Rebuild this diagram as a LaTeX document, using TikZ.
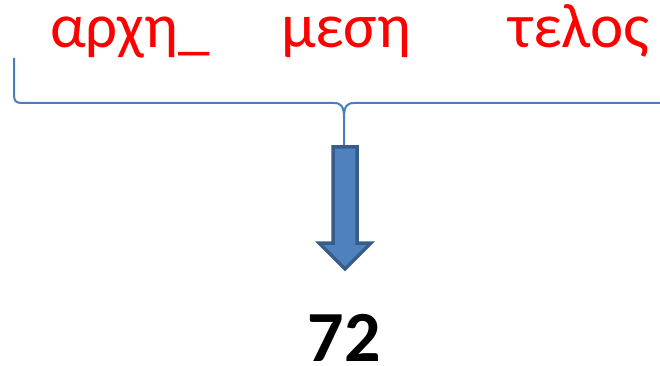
\documentclass[tikz,border=0pt]{standalone}
\usepackage{fontspec}
\setmainfont{Carlito}
\definecolor{bracecol}{HTML}{4A7EBB}
\definecolor{arrowfill}{HTML}{4F81BD}
\definecolor{arrowline}{HTML}{385D8A}
\begin{document}
\begin{tikzpicture}[x=1pt,y=1pt,
  word/.style={text=red,font=\fontsize{63}{70}\selectfont,anchor=base,inner sep=0pt},
  result/.style={text=black,font=\fontsize{72}{80}\selectfont\bfseries,anchor=base,inner sep=0pt},
  bracestyle/.style={draw=bracecol,line width=2pt},
  bigarrow/.style={fill=arrowfill,draw=arrowline,line width=3.5pt,line join=miter}]
\useasboundingbox (0,0) rectangle (660,-366);
\node[word] (a) at (130,-48) {αρχη\_};
\node[word] (m) at (346,-48) {μεση};
\node[word] (t) at (579,-48) {τελος};
\node[result] (r) at (344,-361) {72};
% brace
\draw[bracestyle] (14,-58) -- (14,-95) .. controls (14,-101) and (16,-103) .. (22,-103)
  -- (334,-103) .. controls (341,-103) and (344,-106) .. (344,-118) -- (344,-148);
\draw[bracestyle] (660,-103) -- (354,-103) .. controls (347,-103) and (344,-106) .. (344,-118);
% arrow
\draw[bigarrow] (333,-147) -- (357,-147) -- (357,-243) -- (371,-243) -- (345,-269)
  -- (319,-243) -- (333,-243) -- cycle;
\end{tikzpicture}
\end{document}
